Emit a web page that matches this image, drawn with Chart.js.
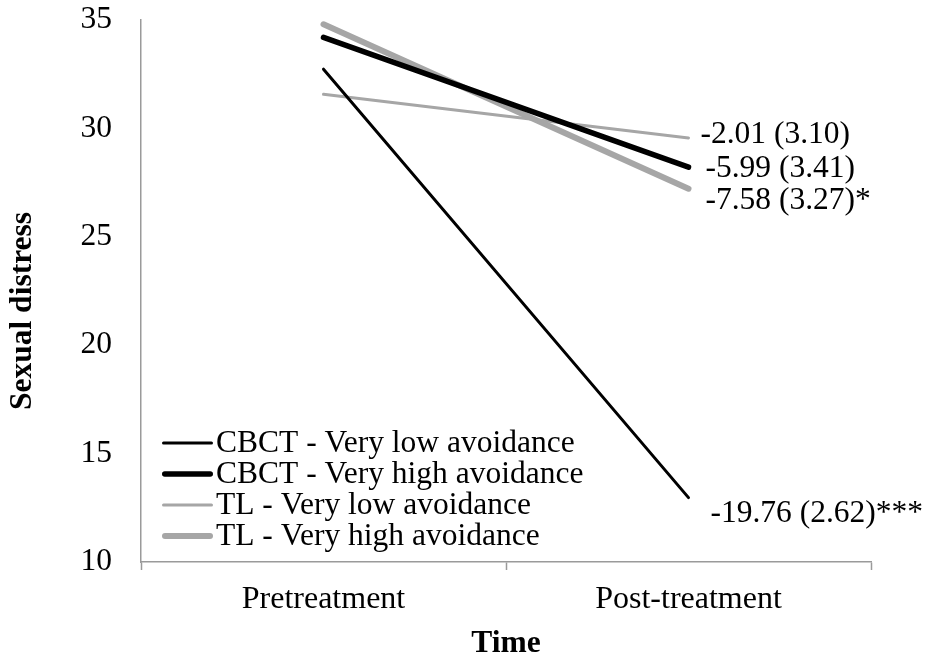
<!DOCTYPE html>
<html>
<head>
<meta charset="utf-8">
<script src="https://cdn.jsdelivr.net/npm/chart.js@4/dist/chart.umd.min.js"></script>
<style>
  html, body { margin: 0; padding: 0; background: #fff; }
  #wrap { width: 929px; height: 659px; }
</style>
</head>
<body>
<div id="wrap"><canvas id="c" width="929" height="659"></canvas></div>
<script>
// Time points on the x axis
const timePoints = ['Pretreatment', 'Post-treatment'];

// Sexual distress at each time point, per group
const cbctVeryLow  = [32.73, 12.97];
const cbctVeryHigh = [34.20, 28.21];
const tlVeryLow    = [31.57, 29.56];
const tlVeryHigh   = [34.80, 27.22];

// Series names
const seriesNames = [
  'CBCT - Very low avoidance',
  'CBCT - Very high avoidance',
  'TL - Very low avoidance',
  'TL - Very high avoidance'
];

// Change scores (SE) shown next to the post-treatment ends
const changeLabels = ['-19.76 (2.62)***', '-5.99 (3.41)', '-2.01 (3.10)', '-7.58 (3.27)*'];

// Axis titles
const xTitle = 'Time';
const yTitle = 'Sexual distress';

// Y axis range
const yMin = 10, yMax = 35, yStep = 5;

const FONT = "'Liberation Serif', 'Times New Roman', serif";
const TEXT_SIZE = 31.5;
const BLACK = '#000000';
const GREY = '#a6a6a6';
const AXIS = '#9a9a9a';

// Where each change label sits relative to its line end
const labelOffsets = [[22, 16], [17, 2], [12, -3], [17, 12]];

const endLabels = {
  id: 'endLabels',
  afterDatasetsDraw(chart) {
    const ctx = chart.ctx;
    ctx.save();
    ctx.font = TEXT_SIZE + 'px ' + FONT;
    ctx.fillStyle = '#000';
    ctx.textBaseline = 'middle';
    ctx.textAlign = 'left';
    chart.data.datasets.forEach((ds, i) => {
      const pts = chart.getDatasetMeta(i).data;
      const p = pts[pts.length - 1];
      ctx.fillText(changeLabels[i], p.x + labelOffsets[i][0], p.y + labelOffsets[i][1]);
    });
    ctx.restore();
  }
};

// Legend drawn inside the plot, lower-left corner
const innerLegend = {
  id: 'innerLegend',
  afterDatasetsDraw(chart) {
    const ctx = chart.ctx;
    const area = chart.chartArea;
    const x0 = area.left + 21;
    const rowGap = 31;
    const yFirst = area.bottom - 119;
    ctx.save();
    ctx.font = TEXT_SIZE + 'px ' + FONT;
    ctx.textBaseline = 'middle';
    ctx.textAlign = 'left';
    chart.data.datasets.forEach((ds, i) => {
      const y = yFirst + i * rowGap;
      const inset = ds.borderWidth / 2;
      ctx.strokeStyle = ds.borderColor;
      ctx.lineWidth = ds.borderWidth;
      ctx.lineCap = 'round';
      ctx.beginPath();
      ctx.moveTo(x0 + inset, y);
      ctx.lineTo(x0 + 51 - inset, y);
      ctx.stroke();
      ctx.fillStyle = '#000';
      ctx.fillText(ds.label, x0 + 54, y + 1);
    });
    ctx.restore();
  }
};

// Vertical axis title, set a little below the plot's mid-height
const yAxisTitle = {
  id: 'yAxisTitle',
  afterDraw(chart) {
    const ctx = chart.ctx;
    const area = chart.chartArea;
    ctx.save();
    ctx.translate(23, (area.top + area.bottom) / 2 + 20);
    ctx.rotate(-Math.PI / 2);
    ctx.font = 'bold ' + TEXT_SIZE + 'px ' + FONT;
    ctx.fillStyle = '#000';
    ctx.textAlign = 'center';
    ctx.textBaseline = 'middle';
    ctx.fillText(yTitle, 0, 0);
    ctx.restore();
  }
};

const mk = (label, data, color, width) => ({
  label, data,
  borderColor: color,
  backgroundColor: color,
  borderWidth: width,
  borderCapStyle: 'round',
  pointRadius: 0,
  pointHoverRadius: 0,
  tension: 0,
  fill: false
});

new Chart(document.getElementById('c'), {
  type: 'line',
  data: {
    labels: timePoints,
    datasets: [
      mk(seriesNames[0], cbctVeryLow, BLACK, 3),
      mk(seriesNames[1], cbctVeryHigh, BLACK, 5.5),
      mk(seriesNames[2], tlVeryLow, GREY, 3),
      mk(seriesNames[3], tlVeryHigh, GREY, 6)
    ]
  },
  options: {
    responsive: false,
    animation: false,
    events: [],
    layout: { padding: { left: 0, right: 58, top: 20, bottom: 0 } },
    plugins: {
      legend: { display: false },
      tooltip: { enabled: false },
      title: { display: false }
    },
    scales: {
      x: {
        type: 'category',
        offset: true,
        grid: {
          display: true,
          offset: true,
          drawOnChartArea: false,
          drawTicks: true,
          tickLength: 8,
          tickWidth: 1.5,
          color: AXIS
        },
        border: { display: true, color: AXIS, width: 1.5 },
        ticks: {
          color: '#000',
          font: { family: FONT, size: 32 },
          padding: 10,
          maxRotation: 0
        },
        title: {
          display: true,
          text: xTitle,
          color: '#000',
          font: { family: FONT, size: TEXT_SIZE, weight: 'bold' },
          padding: { top: 6, bottom: -4 }
        },
        afterFit(scale) { scale.height = 659 - 562; scale.paddingLeft = 0; scale.paddingRight = 0; }
      },
      y: {
        min: yMin,
        max: yMax,
        grid: { display: false, drawTicks: false },
        border: { display: true, color: AXIS, width: 1.5 },
        ticks: {
          stepSize: yStep,
          color: '#000',
          font: { family: FONT, size: TEXT_SIZE },
          padding: 29
        },
        title: { display: false },
        afterFit(scale) { scale.width = 141; scale.paddingTop = 0; scale.paddingBottom = 0; }
      }
    }
  },
  plugins: [endLabels, innerLegend, yAxisTitle]
});
</script>
</body>
</html>
